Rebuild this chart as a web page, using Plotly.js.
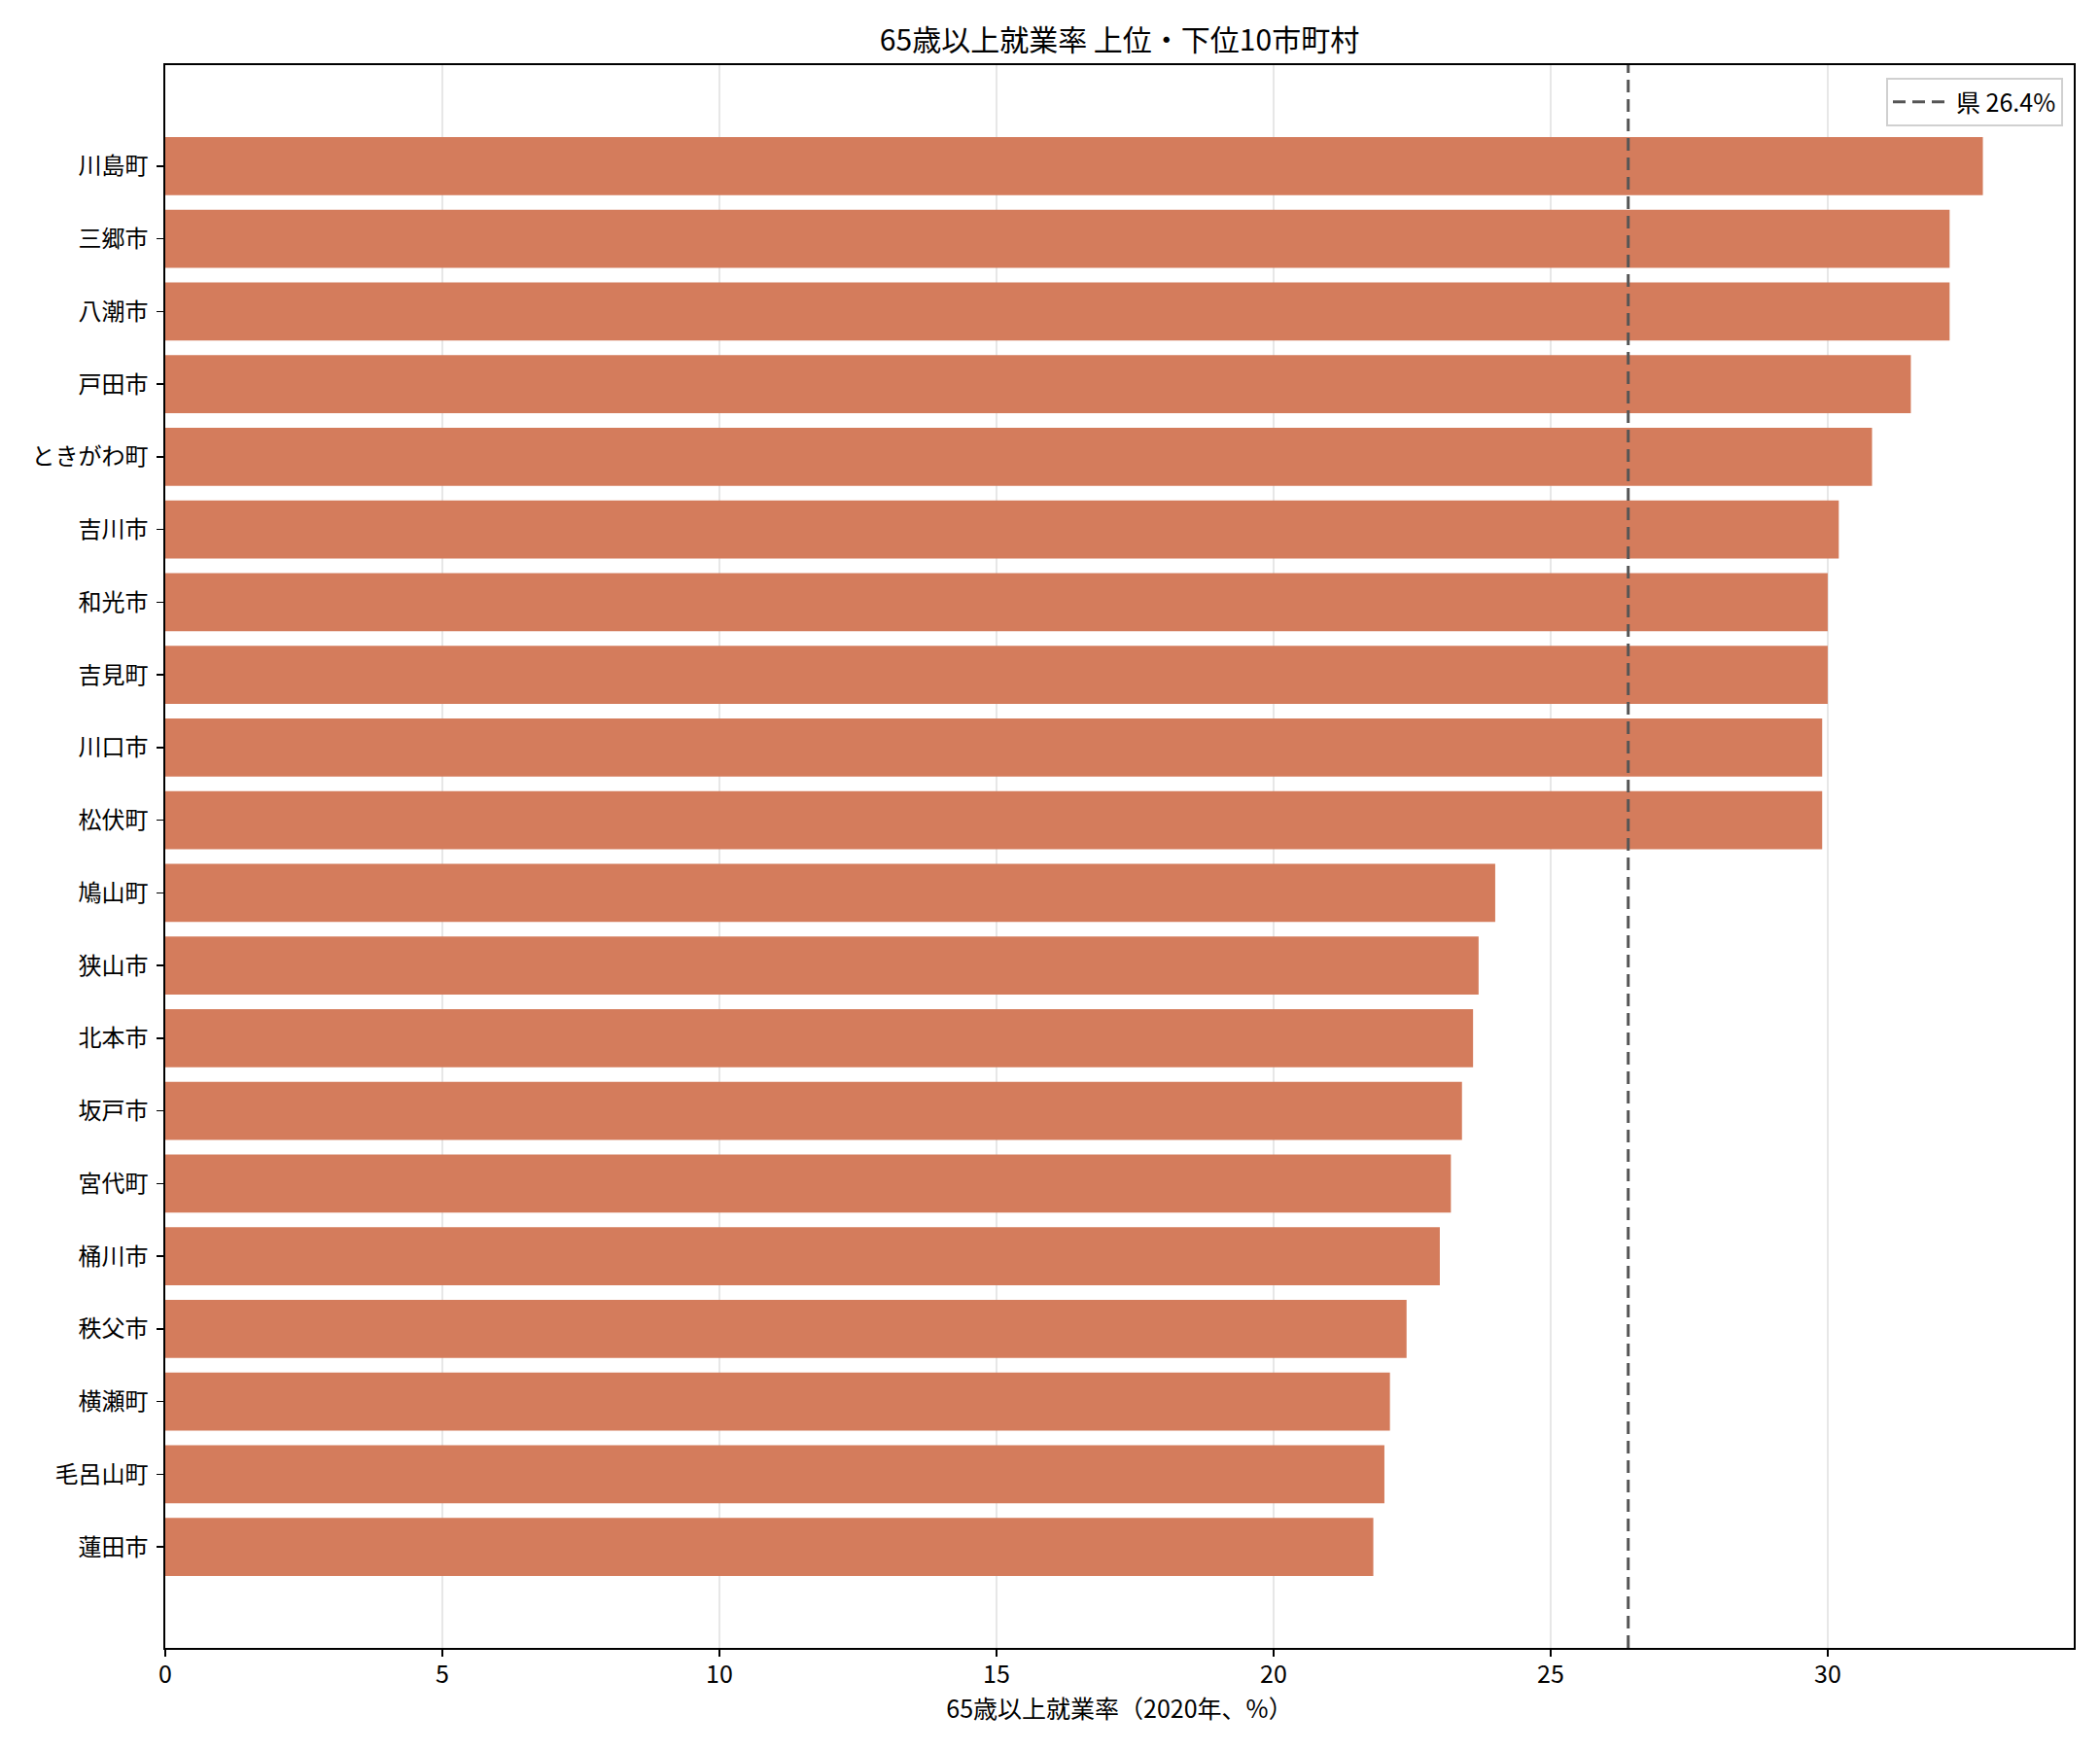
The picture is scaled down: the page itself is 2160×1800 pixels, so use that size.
<!DOCTYPE html>
<html>
<head>
<meta charset="utf-8">
<script src="https://cdn.plot.ly/plotly-3.0.1.min.js"></script>
<style>
  html, body { margin: 0; padding: 0; background: #fff; }
  #chart { width: 2160px; height: 1800px; }
</style>
</head>
<body>
<div id="chart"></div>
<script>
// top 10 and bottom 10, listed from top of chart to bottom
let towns = ['川島町', '三郷市', '八潮市', '戸田市', 'ときがわ町', '吉川市', '和光市', '吉見町', '川口市', '松伏町',
  '鳩山町', '狭山市', '北本市', '坂戸市', '宮代町', '桶川市', '秩父市', '横瀬町', '毛呂山町', '蓮田市'];
let rates = [32.8, 32.2, 32.2, 31.5, 30.8, 30.2, 30.0, 30.0, 29.9, 29.9,
  24.0, 23.7, 23.6, 23.4, 23.2, 23.0, 22.4, 22.1, 22.0, 21.8];
let prefRate = 26.4;
let xTicks = [0, 5, 10, 15, 20, 25, 30];

let font = '"Noto Sans CJK JP", "Noto Sans", sans-serif';

let bars = {
  type: 'bar',
  orientation: 'h',
  x: rates,
  y: towns,
  width: 0.8,
  marker: { color: 'rgb(212,124,92)' },
  showlegend: false,
  hoverinfo: 'x+y'
};

// prefecture average, drawn on an overlay axis so it spans the full height
let prefLine = {
  type: 'scatter',
  mode: 'lines',
  x: [prefRate, prefRate],
  y: [0, 1],
  yaxis: 'y2',
  name: '県 ' + prefRate.toFixed(1) + '%',
  line: { color: '#555555', width: 3, dash: '13px,7px' }
};

let layout = {
  width: 2160,
  height: 1800,
  margin: { l: 170, r: 27, t: 67, b: 105 },
  paper_bgcolor: '#fff',
  plot_bgcolor: '#fff',
  font: { family: font, size: 24, color: '#000' },
  title: {
    text: '65歳以上就業率 上位・下位10市町村',
    font: { family: font, size: 30, color: '#000' },
    xref: 'paper', x: 0.5, xanchor: 'center',
    yref: 'container', y: 1 - 41 / 1800, yanchor: 'middle'
  },
  xaxis: {
    range: [0, 34.44],
    tickvals: xTicks,
    ticktext: xTicks.map(String),
    ticks: 'outside', ticklen: 7, tickwidth: 1.6, tickcolor: '#000',
    showline: true, linecolor: '#000', linewidth: 1.6, mirror: true,
    showgrid: true, gridcolor: 'rgba(176,176,176,0.3)', gridwidth: 1.6,
    zeroline: false,
    layer: 'above traces',
    ticklabelstandoff: -3,
    tickfont: { size: 25 },
    title: { text: '65歳以上就業率（2020年、%）', font: { size: 25 }, standoff: 8 }
  },
  yaxis: {
    type: 'category',
    categoryorder: 'array',
    categoryarray: towns,
    range: [20.39, -1.39],
    ticks: 'outside', ticklen: 7, tickwidth: 1.6, tickcolor: '#000',
    showline: true, linecolor: '#000', linewidth: 1.6, mirror: true,
    showgrid: false, zeroline: false,
    ticklabelstandoff: 4,
    tickfont: { size: 24 }
  },
  yaxis2: {
    overlaying: 'y',
    range: [0, 1],
    visible: false,
    fixedrange: true
  },
  legend: {
    x: 1 - 11 / 1963, xanchor: 'right',
    y: 1 - 13 / 1628, yanchor: 'top',
    bgcolor: 'rgba(255,255,255,0.8)',
    bordercolor: '#d0d0d0', borderwidth: 2,
    itemwidth: 60,
    font: { size: 25 }
  },
  showlegend: true
};

Plotly.newPlot(document.getElementById('chart'), [bars, prefLine], layout, { displayModeBar: false, staticPlot: true });
</script>
</body>
</html>
